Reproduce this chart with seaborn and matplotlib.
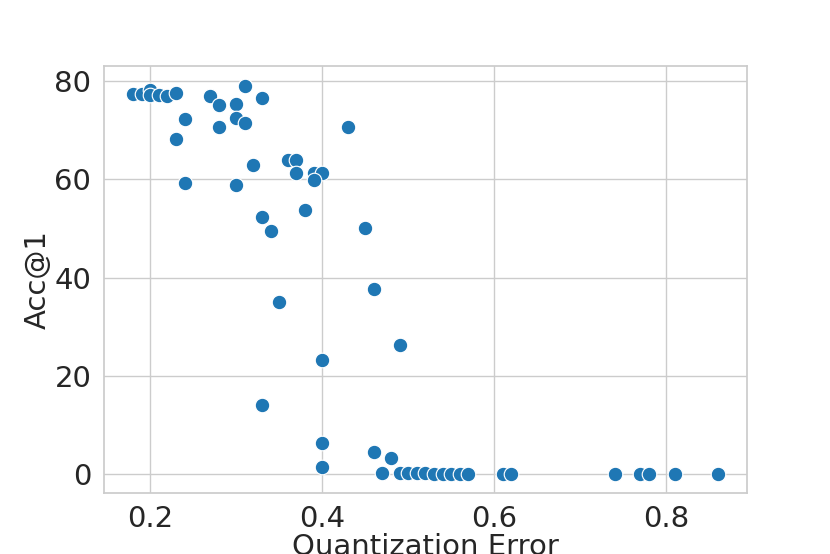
import numpy as np
import matplotlib
matplotlib.use('Agg')
import matplotlib.pyplot as plt
import pandas as pd
import seaborn as sns

# quantization error vs top-1 accuracy
quant_error = [0.18, 0.19, 0.20, 0.20, 0.21, 0.22, 0.23, 0.24, 0.23, 0.24,
               0.27, 0.28, 0.28, 0.30, 0.30, 0.31, 0.31, 0.33, 0.30, 0.32,
               0.33, 0.34, 0.36, 0.37, 0.37, 0.39, 0.40, 0.39, 0.38, 0.43,
               0.45, 0.35, 0.33, 0.40, 0.40, 0.40, 0.46, 0.49, 0.46, 0.48,
               0.47, 0.49, 0.50, 0.51, 0.52, 0.53, 0.54, 0.55, 0.56, 0.57,
               0.61, 0.62, 0.74, 0.77, 0.78, 0.81, 0.86]
acc1 = [77.4, 77.4, 78.2, 77.2, 77.2, 76.9, 77.5, 72.3, 68.1, 59.2,
        76.9, 75.1, 70.6, 75.4, 72.5, 71.4, 79.0, 76.6, 58.8, 62.9,
        52.3, 49.4, 63.9, 64.0, 61.3, 61.2, 61.3, 59.8, 53.7, 70.6,
        50.1, 35.0, 14.0, 23.2, 6.3, 1.5, 37.7, 26.3, 4.5, 3.2,
        0.3, 0.2, 0.2, 0.2, 0.2, 0.1, 0.1, 0.1, 0.1, 0.1,
        0.1, 0.1, 0.1, 0.1, 0.1, 0.1, 0.1]

df = pd.DataFrame({'Quantization Error': quant_error, 'Acc@1': acc1})

sns.set_theme(style='whitegrid')
plt.rcParams['font.family'] = ['DejaVu Sans']
plt.rcParams['xtick.labelsize'] = 21
plt.rcParams['ytick.labelsize'] = 21
plt.rcParams['axes.labelsize'] = 21
plt.rcParams['xtick.major.pad'] = 2.5
plt.rcParams['ytick.major.pad'] = 3

fig, ax = plt.subplots(figsize=(8.3, 5.54), dpi=100)
sns.scatterplot(data=df, x='Quantization Error', y='Acc@1', s=110,
                color='#1f77b4', ax=ax)
ax.set_xticks([0.2, 0.4, 0.6, 0.8])
ax.set_yticks([0, 20, 40, 60, 80])
ax.set_xlabel('Quantization Error', labelpad=0)
ax.set_ylabel('Acc@1', labelpad=2)

fig.savefig('out.png', dpi=100)
